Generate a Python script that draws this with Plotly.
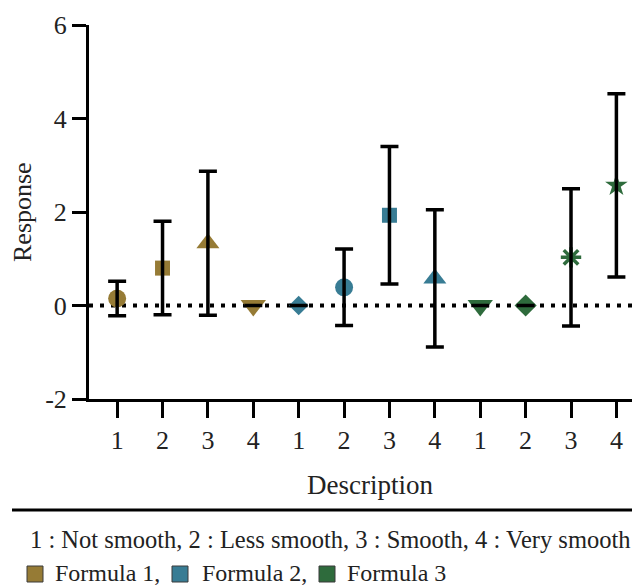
import plotly.graph_objects as go

# ---- data ----
tick_labels = ["1", "2", "3", "4", "1", "2", "3", "4", "1", "2", "3", "4"]
positions = list(range(1, 13))
y_ticks = [-2, 0, 2, 4, 6]
y_tick_labels = ["-2", "0", "2", "4", "6"]

f1_x = [1, 2, 3, 4]
f1_mean = [0.15, 0.80, 1.33, 0.0]
f1_err = [0.37, 1.00, 1.54, None]

f2_x = [5, 6, 7, 8]
f2_mean = [0.0, 0.39, 1.93, 0.58]
f2_err = [None, 0.82, 1.47, 1.47]

f3_x = [9, 10, 11, 12]
f3_mean = [0.0, 0.0, 1.03, 2.57]
f3_err = [None, None, 1.47, 1.96]

series_names = ["Formula 1,", "Formula 2,", "Formula 3"]
colors = ["#967b35", "#387c94", "#2e6b3c"]
symbols = [
    ["circle", "square", "triangle-up", "triangle-down"],
    ["diamond", "circle", "square", "triangle-up"],
    ["triangle-down", "diamond", "asterisk-open", "star"],
]
sizes = [
    [18, 15, 20, 22],
    [15, 18, 15, 20],
    [22, 17, 17, 17],
]
outline = [
    [0, 0, 0, 0],
    [0, 0, 0, 0],
    [0, 0, 3.5, 0],
]
note_text = "1 : Not smooth, 2 : Less smooth, 3 : Smooth, 4 : Very smooth"

FONT = "Liberation Serif, Times New Roman, serif"
TXT = "#222222"

# the page body has an 8px default margin; size the figure to fit the window
OFF = 8
W, H = 640 - OFF, 588 - OFF
L, R, T = 89 - OFF, 0, 25 - OFF
B = H - (399 - OFF)
PW, PH = W - L - R, H - T - B


def px(xp):
    # window pixel x -> paper coordinate
    return (xp - OFF - L) / PW


def py(yp):
    # window pixel y -> paper coordinate
    return (H - B - (yp - OFF)) / PH


fig = go.Figure()

# zero reference dotted line
fig.add_shape(type="line", xref="paper", yref="y", x0=0, x1=1, y0=0, y1=0,
              line=dict(color="black", width=4, dash="4px,7px"), layer="below")

all_x = [f1_x, f2_x, f3_x]
all_m = [f1_mean, f2_mean, f3_mean]
all_e = [f1_err, f2_err, f3_err]

for i in range(3):
    fig.add_trace(go.Scatter(
        x=all_x[i], y=all_m[i], mode="markers", showlegend=False,
        marker=dict(color=colors[i], symbol=symbols[i], size=sizes[i], opacity=1,
                    line=dict(color=colors[i], width=outline[i])),
    ))

for i in range(3):
    fig.add_trace(go.Scatter(
        x=all_x[i], y=all_m[i], mode="markers", showlegend=False,
        marker=dict(opacity=0, size=1),
        error_y=dict(type="data", array=all_e[i], visible=True,
                     color="black", thickness=3.5, width=9),
    ))

fig.update_layout(
    width=W, height=H,
    margin=dict(l=L, r=R, t=T, b=B),
    plot_bgcolor="white", paper_bgcolor="white",
    font=dict(family=FONT, size=25, color=TXT),
    showlegend=False,
    xaxis=dict(
        range=[0.38, 12.52], tickmode="array", tickvals=positions, ticktext=tick_labels,
        showgrid=False, zeroline=False, showline=True, linecolor="black", linewidth=3,
        ticks="outside", ticklen=16, tickwidth=3, tickcolor="black",
        tickfont=dict(size=26, family=FONT, color=TXT), automargin=False,
    ),
    yaxis=dict(
        range=[-2, 6], tickmode="array", tickvals=y_ticks, ticktext=y_tick_labels,
        showgrid=False, zeroline=False, showline=True, linecolor="black", linewidth=3,
        ticks="outside", ticklen=14, tickwidth=3, tickcolor="black",
        tickfont=dict(size=26, family=FONT, color=TXT), automargin=False,
    ),
)

# axis titles
fig.add_annotation(xref="paper", yref="paper", x=px(370), y=py(485),
                   xanchor="center", yanchor="middle", showarrow=False,
                   text="Description", font=dict(size=27, family=FONT, color=TXT))
fig.add_annotation(xref="paper", yref="paper", x=px(22), y=py(212),
                   xanchor="center", yanchor="middle", showarrow=False, textangle=-90,
                   text="Response", font=dict(size=26, family=FONT, color=TXT))

# horizontal rule and note below the axis
fig.add_shape(type="line", xref="paper", yref="paper", x0=px(12), x1=1.0,
              y0=py(510), y1=py(510), line=dict(color="black", width=3))
fig.add_annotation(xref="paper", yref="paper", x=px(28), y=py(539),
                   xanchor="left", yanchor="middle", showarrow=False,
                   text=note_text, font=dict(size=24.5, family=FONT, color=TXT))

# legend row: coloured squares + labels
sq_left = [27, 172, 319]
txt_left = [53, 200, 345]
for i in range(3):
    fig.add_shape(type="rect", xref="paper", yref="paper",
                  x0=px(sq_left[i]), x1=px(sq_left[i] + 16),
                  y0=py(582), y1=py(566),
                  fillcolor=colors[i], line=dict(color="#3a3a3a", width=1))
    fig.add_annotation(xref="paper", yref="paper", x=px(txt_left[i]), y=py(573),
                       xanchor="left", yanchor="middle", showarrow=False,
                       text=series_names[i], font=dict(size=24, family=FONT, color=TXT))

fig.write_html("out.html")
